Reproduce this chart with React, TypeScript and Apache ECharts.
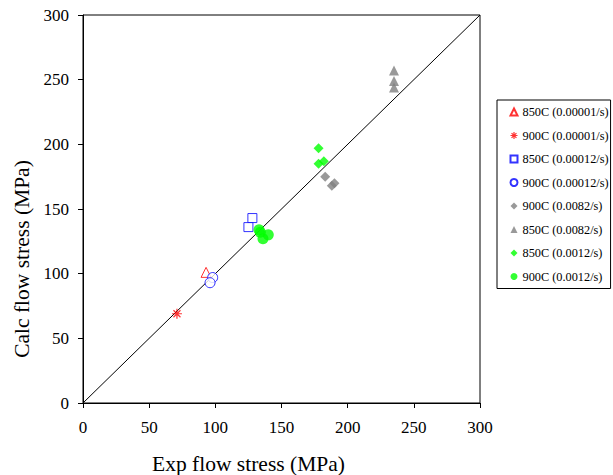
import React, { useEffect, useRef } from "react";
import * as echarts from "echarts";

const s850_00001: number[][] = [[93, 101]];
const s900_00001: number[][] = [[71, 69]];
const s850_00012: number[][] = [[128, 143], [125, 136]];
const s900_00012: number[][] = [[98, 97], [96, 93]];
const s900_0082: number[][] = [[183, 175], [188, 168], [190, 170]];
const s850_0082: number[][] = [[235, 257], [235, 249], [235, 244]];
const s850_0012: number[][] = [[178, 197], [178, 185], [182, 187]];
const s900_0012: number[][] = [[133, 134], [136, 127], [140, 130], [134, 132]];
const diagonal: number[][] = [[0, 0], [300, 300]];
const legendNames = [
  "850C (0.00001/s)",
  "900C (0.00001/s)",
  "850C (0.00012/s)",
  "900C (0.00012/s)",
  "900C (0.0082/s)",
  "850C (0.0082/s)",
  "850C (0.0012/s)",
  "900C (0.0012/s)",
];

const FONT = "Liberation Serif";
const STAR = "path://M0,5L10,5M5,0L5,10M1.5,1.5L8.5,8.5M8.5,1.5L1.5,8.5";

export default function App() {
  const ref = useRef<HTMLDivElement>(null);
  useEffect(() => {
    const chart = echarts.init(ref.current!, undefined, { renderer: "svg" });
    const hollow = (c: string) => ({ color: "#fff", borderColor: c, borderWidth: 1 });
    const solid = (c: string) => ({ color: c, borderWidth: 0 });
    const starStyle = { color: "none", borderColor: "#ff0000", borderWidth: 1.2 };
    chart.setOption({
      animation: false,
      backgroundColor: "#fff",
      textStyle: { fontFamily: FONT },
      grid: {
        left: 83,
        right: 133,
        top: 15,
        bottom: 72,
        outerBoundsMode: "none",
        containLabel: false,
        show: true,
        borderColor: "#000",
        borderWidth: 1,
      },
      legend: {
        orient: "vertical",
        left: 497,
        top: 100,
        padding: [6, 2, 6, 11],
        itemGap: 11.5,
        itemWidth: 7,
        itemHeight: 7,
        borderColor: "#000",
        borderWidth: 1,
        backgroundColor: "#fff",
        textStyle: { fontFamily: FONT, fontSize: 12.3, color: "#000" },
        data: legendNames.map((n) =>
          n === "900C (0.00001/s)" ? { name: n, icon: STAR, itemStyle: starStyle } : { name: n }
        ),
      },
      xAxis: {
        type: "value",
        min: 0,
        max: 300,
        interval: 50,
        name: "Exp flow stress (MPa)",
        nameLocation: "middle",
        nameGap: 50,
        nameTextStyle: { fontFamily: FONT, fontSize: 21.5, color: "#000", padding: [0, 66, 0, 0] },
        axisLine: { lineStyle: { color: "#000" } },
        axisTick: { show: true, inside: false, length: 5, lineStyle: { color: "#000" } },
        axisLabel: { fontFamily: FONT, fontSize: 17, color: "#000", margin: 16 },
        splitLine: { show: false },
      },
      yAxis: {
        type: "value",
        min: 0,
        max: 300,
        interval: 50,
        name: "Calc flow stress (MPa)",
        nameLocation: "middle",
        nameGap: 45,
        nameTextStyle: { fontFamily: FONT, fontSize: 21.5, color: "#000", padding: [0, 100, 0, 0] },
        axisLine: { lineStyle: { color: "#000" } },
        axisTick: { show: true, inside: false, length: 5, lineStyle: { color: "#000" } },
        axisLabel: { fontFamily: FONT, fontSize: 17, color: "#000", margin: 14 },
        splitLine: { show: false },
      },
      series: [
        {
          type: "line",
          data: diagonal,
          symbol: "none",
          lineStyle: { color: "#000", width: 1 },
          silent: true,
          z: 1,
        },
        { name: legendNames[0], type: "scatter", data: s850_00001, symbol: "triangle", symbolSize: 10, itemStyle: hollow("#ff0000") },
        { name: legendNames[1], type: "scatter", data: s900_00001, symbol: STAR, symbolSize: 10, itemStyle: starStyle },
        { name: legendNames[2], type: "scatter", data: s850_00012, symbol: "rect", symbolSize: 9, itemStyle: hollow("#0000ff") },
        { name: legendNames[3], type: "scatter", data: s900_00012, symbol: "circle", symbolSize: 10, itemStyle: hollow("#0000ff") },
        { name: legendNames[4], type: "scatter", data: s900_0082, symbol: "diamond", symbolSize: 10, itemStyle: solid("#808080") },
        { name: legendNames[5], type: "scatter", data: s850_0082, symbol: "triangle", symbolSize: 10, itemStyle: solid("#808080") },
        { name: legendNames[6], type: "scatter", data: s850_0012, symbol: "diamond", symbolSize: 10, itemStyle: solid("#00ff00") },
        { name: legendNames[7], type: "scatter", data: s900_0012, symbol: "circle", symbolSize: 11, itemStyle: solid("#00ff00") },
      ],
    });
    return () => chart.dispose();
  }, []);
  return (
    <div
      ref={ref}
      style={{ position: "absolute", left: 0, top: 0, width: 613, height: 475 }}
    />
  );
}
